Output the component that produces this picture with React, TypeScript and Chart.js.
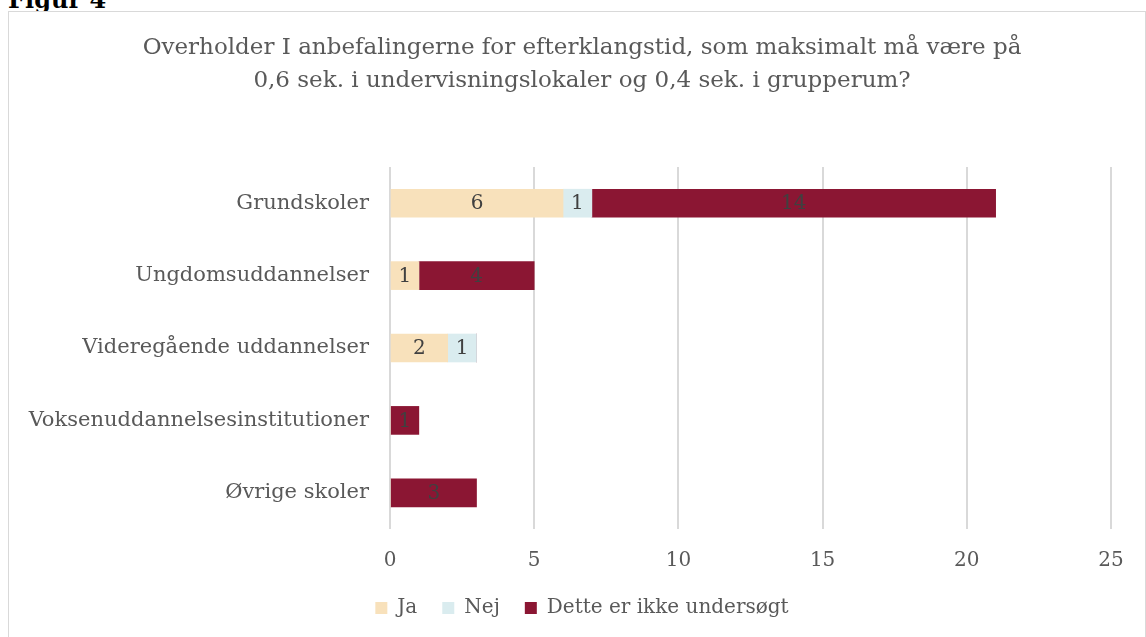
import React, { useEffect, useRef } from "react";
import { Chart, registerables } from "chart.js";

Chart.register(...registerables);

const categories = [
  "Grundskoler",
  "Ungdomsuddannelser",
  "Videregående uddannelser",
  "Voksenuddannelsesinstitutioner",
  "Øvrige skoler",
];
const jaValues = [6, 1, 2, 0, 0];
const nejValues = [1, 0, 1, 0, 0];
const detteValues = [14, 4, 0, 1, 3];
const seriesNames = ["Ja", "Nej", "Dette er ikke undersøgt"];
const titleLines = [
  "Overholder I anbefalingerne for efterklangstid, som maksimalt må være på",
  "0,6 sek. i undervisningslokaler og 0,4 sek. i grupperum?",
];

const FONT = "'DejaVu Serif', 'Liberation Serif', serif";

const dataLabelPlugin = {
  id: "dataLabels",
  afterDatasetsDraw(chart: any) {
    const ctx = chart.ctx;
    ctx.save();
    ctx.font = `20px ${FONT}`;
    ctx.fillStyle = "#404040";
    ctx.textAlign = "center";
    ctx.textBaseline = "middle";
    chart.data.datasets.forEach((ds: any, i: number) => {
      const meta = chart.getDatasetMeta(i);
      meta.data.forEach((bar: any, j: number) => {
        const v = ds.data[j];
        if (!v) return;
        const p = bar.getProps(["x", "y", "base"], true);
        ctx.fillText(String(v), (p.x + p.base) / 2, p.y + 1);
      });
    });
    ctx.restore();
  },
};

// shift title and legend centring to the right, as in the original layout
const centerShiftPlugin = {
  id: "centerShift",
  afterLayout(chart: any) {
    if (chart.titleBlock) chart.titleBlock.left = 44;
    if (chart.legend) chart.legend.left = 44;
  },
};

export default function App() {
  const ref = useRef<HTMLCanvasElement>(null);
  useEffect(() => {
    if (!ref.current) return;
    const chart = new Chart(ref.current, {
      type: "bar",
      data: {
        labels: categories,
        datasets: [
          { label: seriesNames[0], data: jaValues, backgroundColor: "#F8E1BB" },
          { label: seriesNames[1], data: nejValues, backgroundColor: "#DAECEF" },
          { label: seriesNames[2], data: detteValues, backgroundColor: "#8B1633" },
        ],
      },
      options: {
        indexAxis: "y",
        animation: false,
        responsive: true,
        maintainAspectRatio: false,
        datasets: { bar: { barThickness: 28 } },
        layout: { padding: { left: 0, right: 34, top: 0, bottom: 9 } },
        scales: {
          x: {
            stacked: true,
            min: 0,
            max: 25,
            ticks: {
              stepSize: 5,
              color: "#595959",
              font: { family: FONT, size: 20 },
              padding: 20,
            },
            grid: { color: "#D9D9D9", lineWidth: 2, drawTicks: false },
            border: { display: false },
            afterFit: (s: any) => {
              s.height = 44;
            },
          },
          y: {
            stacked: true,
            ticks: {
              color: "#595959",
              font: { family: FONT, size: 21 },
              padding: 21,
            },
            grid: { display: false, drawTicks: false },
            border: { display: false },
            afterFit: (s: any) => {
              s.width = 381;
            },
          },
        },
        plugins: {
          title: {
            display: true,
            text: titleLines,
            color: "#595959",
            font: { family: FONT, size: 23, weight: "normal", lineHeight: 1.435 },
            padding: { top: 20, bottom: 69 },
          },
          legend: {
            position: "bottom",
            labels: {
              boxWidth: 12,
              boxHeight: 12,
              padding: 25,
              color: "#595959",
              font: { family: FONT, size: 20 },
            },
          },
          tooltip: { enabled: false },
        },
      },
      plugins: [dataLabelPlugin, centerShiftPlugin],
    } as any);
    return () => chart.destroy();
  }, []);

  return (
    <div style={{ position: "fixed", inset: 0, overflow: "hidden", background: "#fff" }}>
      <div
        style={{
          position: "absolute",
          left: 8,
          top: -14,
          fontFamily: "'DejaVu Serif', serif",
          fontWeight: "bold",
          fontSize: 24,
          lineHeight: "28px",
          color: "#000",
        }}
      >
        Figur 4
      </div>
      <div
        style={{
          position: "absolute",
          left: 8,
          top: 11,
          width: 1138,
          height: 640,
          boxSizing: "border-box",
          border: "1px solid #D9D9D9",
          background: "#fff",
        }}
      >
        <div style={{ position: "relative", width: 1136, height: 625 }}>
          <canvas ref={ref} />
        </div>
      </div>
    </div>
  );
}
